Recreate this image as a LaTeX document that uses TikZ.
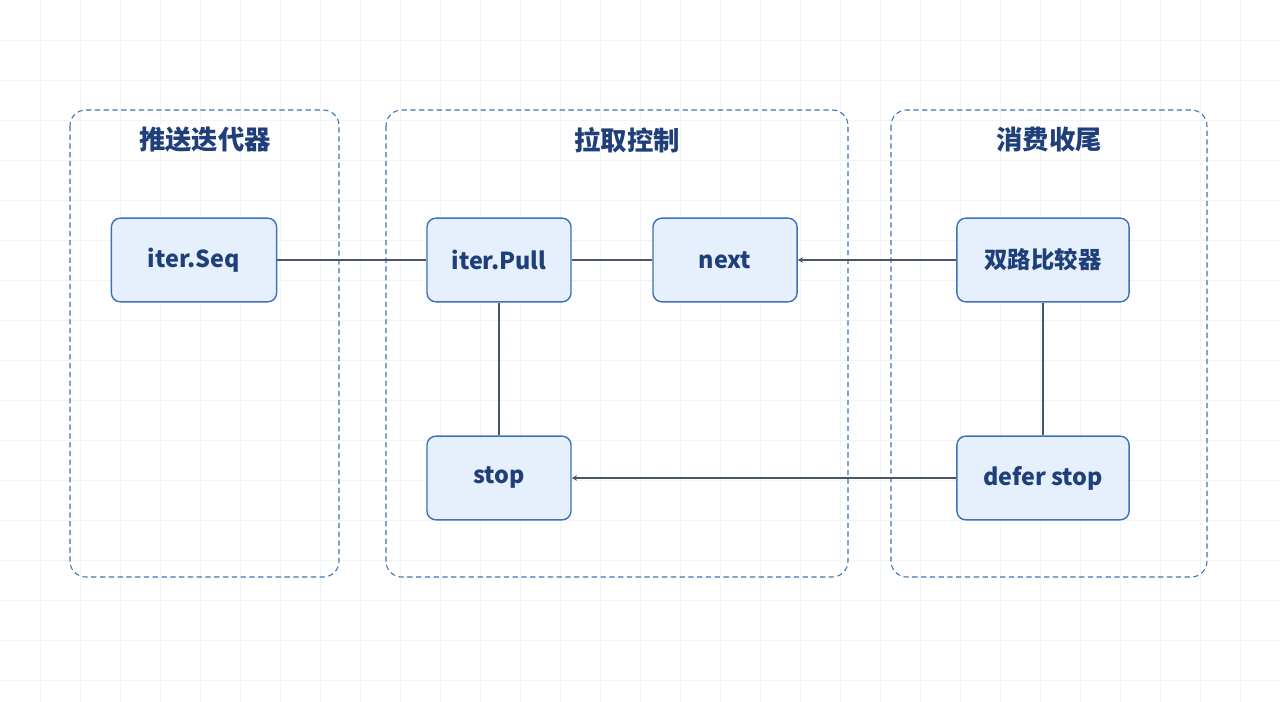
\documentclass[tikz,border=0pt]{standalone}
\usepackage{fontspec}
\setmainfont{Noto Sans CJK SC}
\usetikzlibrary{arrows.meta}
\definecolor{boxfill}{HTML}{E6F0FC}
\definecolor{boxline}{HTML}{3D72B8}
\definecolor{txt}{HTML}{1F3F7A}
\definecolor{wire}{HTML}{4A5568}
\definecolor{gridc}{HTML}{F1F4F8}
\begin{document}
\begin{tikzpicture}[x=0.02cm,y=-0.02cm,
        box/.style={draw=boxline,fill=boxfill,rounded corners=5pt,line width=0.8pt,
            minimum height=47.6pt,font=\fontsize{13.3}{15}\bfseries,text=txt},
        group/.style={draw=boxline,dash pattern=on 3pt off 2pt,rounded corners=9pt,line width=0.6pt},
        title/.style={font=\fontsize{15}{17}\bfseries,text=txt},
        wire/.style={draw=wire,line width=0.6pt},
        arr/.style={wire,-{Stealth[length=3pt,width=3pt]}}]

    \useasboundingbox (0,0) rectangle (1280,702);
    \fill[white] (0,0) rectangle (1280,702);
    \foreach \x in {40,80,...,1280} \draw[gridc,line width=0.3pt] (\x,0) -- (\x,702);
    \foreach \y in {40,80,...,700} \draw[gridc,line width=0.3pt] (0,\y) -- (1280,\y);

    % groups
    \draw[group] (70,110) rectangle (339,577);
    \draw[group] (386,110) rectangle (848,577);
    \draw[group] (891,110) rectangle (1207,577);
    \node[title] (t1) at (205,140) {推送迭代器};
    \node[title] (t2) at (627,140) {拉取控制};
    \node[title] (t3) at (1049,140) {消费收尾};

    % nodes
    \node[box,minimum width=94pt] (seq) at (194,260) {iter.Seq};
    \node[box,minimum width=82pt] (pull) at (499,260) {iter.Pull};
    \node[box,minimum width=82pt] (next) at (725,260) {next};
    \node[box,minimum width=98pt] (cmp) at (1043,260) {双路比较器};
    \node[box,minimum width=82pt] (stop) at (499,478) {stop};
    \node[box,minimum width=98pt] (defer) at (1043,478) {defer stop};

    % connectors
    \draw[wire] (seq) -- (pull);
    \draw[wire] (pull) -- (next);
    \draw[arr] (cmp) -- (next);
    \draw[wire] (pull) -- (stop);
    \draw[wire] (cmp) -- (defer);
    \draw[arr] (defer) -- (stop);
\end{tikzpicture}
\end{document}
